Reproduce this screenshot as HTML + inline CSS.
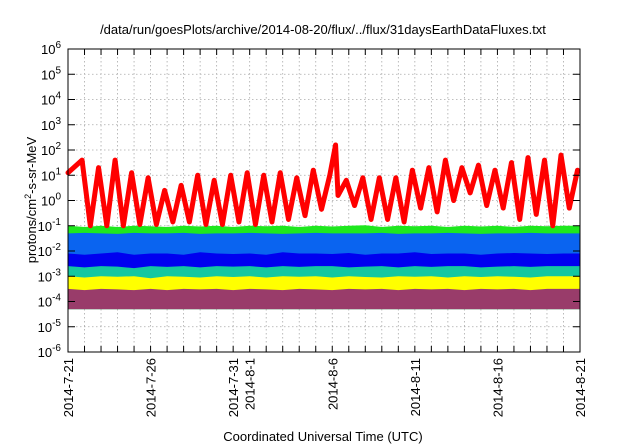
<!DOCTYPE html>
<html><head><meta charset="utf-8"><style>
body{margin:0;background:#fff;}
svg{display:block;font-family:"Liberation Sans",sans-serif;}
</style></head><body>
<svg id="c" width="640" height="448" viewBox="0 0 640 448"></svg>
<script>
// ---- data ----
const xLabels=["2014-7-21","2014-7-26","2014-7-31","2014-8-1","2014-8-6","2014-8-11","2014-8-16","2014-8-21"];
const xLabelDays=[0,5,10,11,16,21,26,31];
const yExps=[-6,-5,-4,-3,-2,-1,0,1,2,3,4,5,6];
// red channel: log10 flux, daily peaks (day k+0.85) and troughs (day k+1.35)
const redStart=1.1;
const redPeaks=[1.6,1.3,1.6,1.1,0.9,0.4,0.6,1.0,0.8,1.0,1.1,1.0,1.1,0.9,1.2,1.0,0.8,0.9,0.9,0.9,1.2,1.3,1.6,1.3,1.4,1.2,1.5,1.7,1.6,1.8,1.2];
const redTroughs=[-1.0,-1.0,-1.0,-0.95,-0.95,-0.85,-0.85,-0.95,-0.95,-0.85,-0.95,-0.85,-0.75,-0.6,-0.35,0.2,-0.2,-0.75,-0.75,-0.85,-0.3,-0.45,0.0,0.3,-0.2,-0.3,-0.75,-0.55,-1.0,-0.3];
const redSpikeDay=16.2, redSpikeVal=2.2;
// band tops (log10) for other channels, daily
const greenTop=[-1.0,-1.05,-1.0,-1.05,-1.0,-1.02,-1.05,-1.0,-1.03,-1.0,-1.05,-1.0,-1.02,-1.0,-1.05,-1.0,-1.03,-1.0,-0.98,-1.05,-1.0,-1.02,-1.0,-1.05,-1.0,-1.03,-1.0,-1.05,-1.0,-1.02,-1.0,-1.0];
const lblueTop=[-1.3,-1.28,-1.3,-1.32,-1.28,-1.3,-1.3,-1.28,-1.32,-1.3,-1.3,-1.28,-1.3,-1.32,-1.3,-1.28,-1.3,-1.3,-1.3,-1.28,-1.32,-1.3,-1.3,-1.28,-1.3,-1.32,-1.3,-1.3,-1.28,-1.3,-1.3,-1.3];
const dblueTop=[-2.1,-2.15,-2.1,-2.05,-2.15,-2.1,-2.1,-2.15,-2.05,-2.1,-2.12,-2.1,-2.15,-2.05,-2.1,-2.1,-2.12,-2.08,-2.15,-2.1,-2.1,-2.05,-2.12,-2.1,-2.1,-2.15,-2.1,-2.08,-2.1,-2.12,-2.1,-2.1];
const tealTop=[-2.6,-2.65,-2.6,-2.62,-2.68,-2.6,-2.63,-2.6,-2.65,-2.6,-2.62,-2.6,-2.65,-2.6,-2.63,-2.6,-2.6,-2.65,-2.62,-2.6,-2.65,-2.6,-2.63,-2.6,-2.6,-2.65,-2.62,-2.6,-2.63,-2.6,-2.6,-2.6];
const yellowTop=[-3.0,-3.05,-3.0,-3.02,-3.0,-3.08,-3.0,-3.02,-3.05,-3.0,-3.03,-3.0,-3.05,-3.0,-3.02,-3.0,-3.05,-3.0,-3.03,-3.05,-3.0,-3.02,-3.0,-3.05,-3.0,-3.03,-3.0,-3.02,-3.05,-3.0,-3.0,-3.0];
const maroonTop=[-3.5,-3.55,-3.5,-3.52,-3.55,-3.5,-3.55,-3.5,-3.52,-3.5,-3.55,-3.5,-3.52,-3.55,-3.5,-3.52,-3.55,-3.5,-3.52,-3.5,-3.55,-3.5,-3.52,-3.5,-3.55,-3.5,-3.52,-3.5,-3.55,-3.5,-3.5,-3.5];
const bandBottom=-4.3;

// ---- layout ----
const L=68,R=580,T=49,B=352,NDAYS=31;
const NS="http://www.w3.org/2000/svg";
const svg=document.getElementById('c');
function X(d){return L+(R-L)*d/NDAYS;}
function Y(l){return B-(B-T)*(l+6)/12;}
function el(tag,attrs,parent){const e=document.createElementNS(NS,tag);for(const k in attrs)e.setAttribute(k,attrs[k]);(parent||svg).appendChild(e);return e;}

// grid
const grid=el('g',{});


for(let d=1;d<NDAYS;d++)el('line',{x1:X(d),x2:X(d),y1:T,y2:B,stroke:'#aaa','stroke-width':0.8,'stroke-dasharray':'1.5,2.5'},grid);
for(let i=1;i<yExps.length-1;i++){const y=Y(yExps[i]);el('line',{x1:L,x2:R,y1:y,y2:y,stroke:'#aaa','stroke-width':0.8,'stroke-dasharray':'1.5,2.5'},grid);}

// bands
function band(top,color,name){
  let d='M'+X(0)+','+Y(bandBottom);
  for(let i=0;i<top.length;i++)d+=' L'+X(i)+','+Y(top[i]);
  d+=' L'+X(NDAYS)+','+Y(bandBottom)+' Z';
  const p=el('path',{d:d,fill:color});
  
  
}
band(greenTop,'#1ee81e','green-channel');
band(lblueTop,'#0a64f0','light-blue-channel');
band(dblueTop,'#0000f0','dark-blue-channel');
band(tealTop,'#14c8a0','teal-channel');
band(yellowTop,'#ffff00','yellow-channel');
band(maroonTop,'#993c6a','maroon-channel');

// red line
let pts=[[0,redStart]];
for(let k=0;k<redPeaks.length;k++){
  pts.push([k+0.85,redPeaks[k]]);
  if(k===15){pts.push([redSpikeDay,redSpikeVal]);}
  if(k<redTroughs.length)pts.push([k+1.35,redTroughs[k]]);
}
const rp=el('polyline',{points:pts.map(p=>X(Math.min(p[0],NDAYS))+','+Y(p[1])).join(' '),fill:'none',stroke:'#ff0000','stroke-width':5,'stroke-linejoin':'round','stroke-linecap':'round'});



// frame & ticks
const ax=el('g',{});


el('rect',{x:L,y:T,width:R-L,height:B-T,fill:'none',stroke:'#000','stroke-width':1},ax);
for(let d=1;d<NDAYS;d++){el('line',{x1:X(d),x2:X(d),y1:B,y2:B-6,stroke:'#000'},ax);el('line',{x1:X(d),x2:X(d),y1:T,y2:T+6,stroke:'#000'},ax);}
for(const e of yExps){const y=Y(e);el('line',{x1:L,x2:L+7,y1:y,y2:y,stroke:'#000'},ax);el('line',{x1:R,x2:R-7,y1:y,y2:y,stroke:'#000'},ax);}

// y tick labels
for(const e of yExps){
  const t=el('text',{x:L-7,y:Y(e)+5,'text-anchor':'end','font-size':13,fill:'#000'});
  
  
  t.appendChild(document.createTextNode('10'));
  const s=el('tspan',{dy:-6,'font-size':10},t);s.textContent=String(e);
}
// x tick labels
for(let i=0;i<xLabels.length;i++){
  const x=X(xLabelDays[i]);
  const t=el('text',{x:0,y:0,'text-anchor':'end','font-size':13,fill:'#000',transform:'translate('+(x+5)+','+(B+6)+') rotate(-90)'});
  
  
  t.textContent=xLabels[i];
}
</script>
<div style="position:absolute;left:0;top:0;width:640px;height:448px;pointer-events:none">
<div style="position:absolute;left:0;width:646px;top:22px;text-align:center;font:13px 'Liberation Sans',sans-serif;">/data/run/goesPlots/archive/2014-08-20/flux/../flux/31daysEarthDataFluxes.txt</div>
<div style="position:absolute;left:0;width:646px;top:429px;text-align:center;font:13px 'Liberation Sans',sans-serif;">Coordinated Universal Time (UTC)</div>
<div style="position:absolute;left:31px;top:200px;width:0;height:0;"><div style="position:absolute;transform:translate(-50%,-50%) rotate(-90deg);white-space:nowrap;font:13px 'Liberation Sans',sans-serif;">protons/cm<sup style="font-size:9px">2</sup>-s-sr-MeV</div></div>
</div>
</body></html>
